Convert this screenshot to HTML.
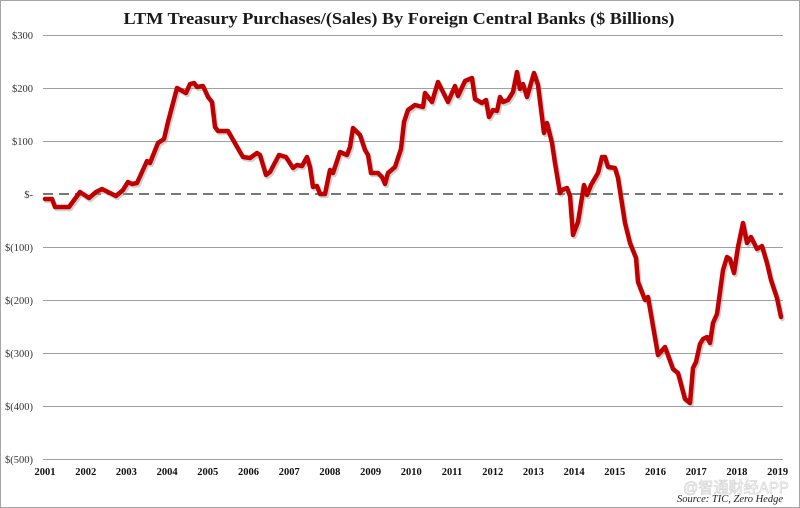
<!DOCTYPE html>
<html><head><meta charset="utf-8"><style>
html,body{margin:0;padding:0;background:#fff;}
svg{display:block;}
</style></head><body>
<svg width="800" height="508" viewBox="0 0 800 508" xmlns="http://www.w3.org/2000/svg">
<rect x="0.5" y="0.5" width="799" height="507" fill="#fff" stroke="#a6a6a6" stroke-width="1"/>
<text x="399" y="24" text-anchor="middle" font-family="Liberation Serif, serif" font-weight="bold" font-size="17" fill="#1a1a1a" textLength="551" lengthAdjust="spacingAndGlyphs">LTM Treasury Purchases/(Sales) By Foreign Central Banks ($ Billions)</text>
<g stroke="#a0a0a0" stroke-width="1">
<line x1="43" y1="35.5" x2="783" y2="35.5"/>
<line x1="43" y1="88.5" x2="783" y2="88.5"/>
<line x1="43" y1="141.5" x2="783" y2="141.5"/>
<line x1="43" y1="247.5" x2="783" y2="247.5"/>
<line x1="43" y1="300.5" x2="783" y2="300.5"/>
<line x1="43" y1="353.5" x2="783" y2="353.5"/>
<line x1="43" y1="406.5" x2="783" y2="406.5"/>
<line x1="43" y1="459.5" x2="783" y2="459.5"/>
</g>
<line x1="43" y1="194" x2="783" y2="194" stroke="#777" stroke-width="2" stroke-dasharray="10,6"/>
<g font-family="Liberation Serif, serif" font-size="10.5" fill="#333" text-anchor="end">
<text x="33" y="39">$300</text>
<text x="33" y="92">$200</text>
<text x="33" y="145">$100</text>
<text x="33" y="198">$-</text>
<text x="33" y="251">$(100)</text>
<text x="33" y="304">$(200)</text>
<text x="33" y="357">$(300)</text>
<text x="33" y="410">$(400)</text>
<text x="33" y="463">$(500)</text>
</g>
<g font-family="Liberation Serif, serif" font-size="10.5" font-weight="bold" fill="#111" text-anchor="middle">
<text x="45" y="475">2001</text>
<text x="85.7" y="475">2002</text>
<text x="126.4" y="475">2003</text>
<text x="167.1" y="475">2004</text>
<text x="207.8" y="475">2005</text>
<text x="248.5" y="475">2006</text>
<text x="289.2" y="475">2007</text>
<text x="329.9" y="475">2008</text>
<text x="370.6" y="475">2009</text>
<text x="411.3" y="475">2010</text>
<text x="452" y="475">2011</text>
<text x="492.7" y="475">2012</text>
<text x="533.4" y="475">2013</text>
<text x="574.1" y="475">2014</text>
<text x="614.8" y="475">2015</text>
<text x="655.5" y="475">2016</text>
<text x="696.2" y="475">2017</text>
<text x="736.9" y="475">2018</text>
<text x="777.6" y="475">2019</text>
</g>
<text x="736" y="493" text-anchor="middle" font-family="Liberation Sans, Noto Sans CJK SC, sans-serif" font-size="16" fill="none" stroke="#d8d8d8" stroke-width="0.8" textLength="106" lengthAdjust="spacingAndGlyphs">@智通财经APP</text>
<text x="783" y="502" text-anchor="end" font-family="Liberation Serif, serif" font-style="italic" font-size="10.5" fill="#222">Source: TIC, Zero Hedge</text>
<defs>
<polyline id="ser" fill="none" stroke-linejoin="round" stroke-linecap="round" points="45,199 52,199 55,207 69,207 80,192 89,198 96,192 102,189 108,192 116,196 123,190 128,182 132,184 137,183 147,161 150,163 158,143 164,139 168,122 177,88 186,93 190,84 194,83 197,87 203,86 208,97 212,102 215,127 218,131 228,131 240,152 243,157 250,158 257,153 260,155 266,175 270,172 279,155 286,157 293,168 297,165 302,166 307,157 310,167 313,187 317,186 320,194 325,194 330,170 333,173 340,152 347,155 350,147 353,128 360,135 365,150 368,155 371,173 378,173 382,177 385,184 388,173 395,167 401,149 404,122 408,110 415,105 423,107 425,93 432,102 438,82 443,92 448,102 455,86 458,96 465,81 472,78 475,99 482,103 486,100 489,117 493,110 497,111 500,97 503,102 508,100 513,92 517,72 520,89 523,84 527,97 534,73 538,85 544,133 547,123 552,143 555,163 560,193 562,190 567,188 570,196 573,235 578,222 584,185 587,195 591,185 598,173 602,157 605,157 608,167 615,168 618,178 625,223 630,243 636,258 638,282 645,300 648,297 658,355 665,347 673,369 678,373 685,399 690,403 693,368 696,362 700,344 703,339 707,337 710,343 713,323 717,314 723,270 727,257 730,259 734,273 738,247 743,223 747,243 751,237 757,249 762,246 767,263 771,280 777,298 781,317"/>
</defs>
<use href="#ser" stroke="#999" stroke-width="4.5" opacity="0.45" transform="translate(1.5,2)"/>
<use href="#ser" stroke="#c00000" stroke-width="4.5"/>
</svg>
</body></html>
